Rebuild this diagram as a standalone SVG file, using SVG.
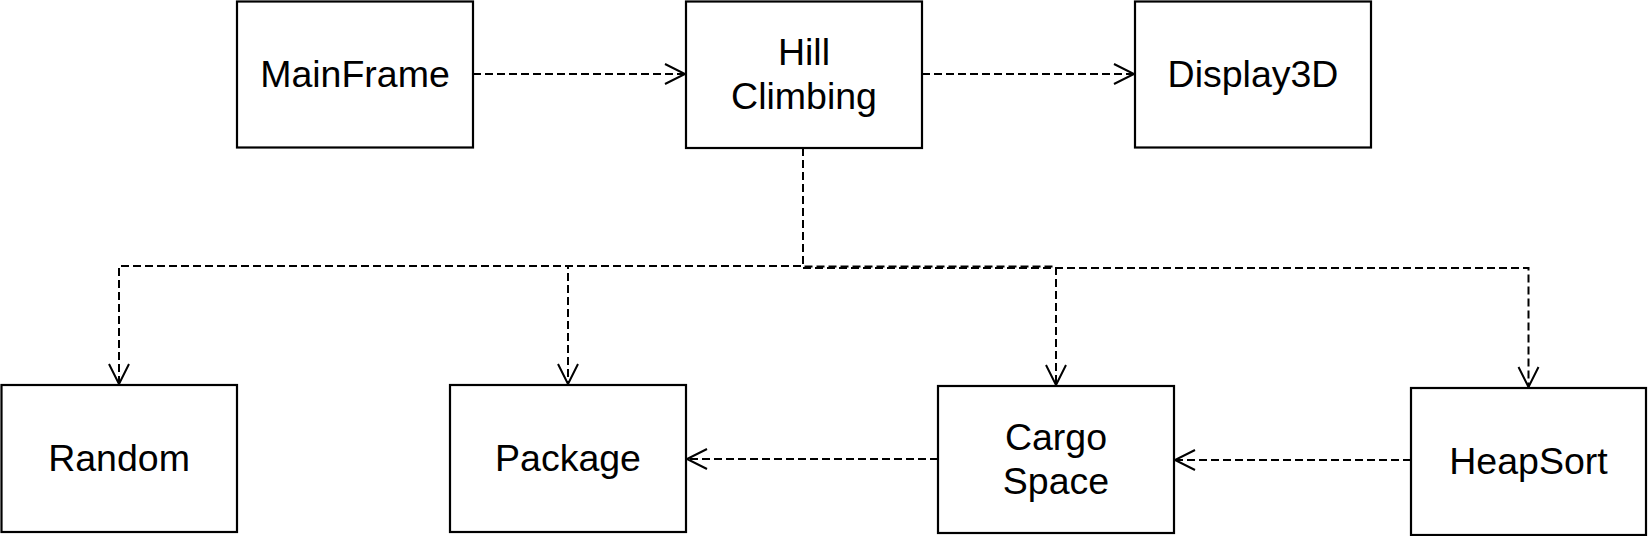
<svg xmlns="http://www.w3.org/2000/svg" width="1648" height="536" viewBox="0 0 1648 536">
<style>
.box{fill:#fff;stroke:#000;stroke-width:2.2}
.lbl{font-family:"Liberation Sans",Arial,sans-serif;font-size:37.5px;fill:#000;text-anchor:middle}
.edge{fill:none;stroke:#000;stroke-width:2;stroke-dasharray:8 4}
</style>
<defs>
<marker id="open" markerUnits="userSpaceOnUse" markerWidth="24" markerHeight="24" viewBox="-22 -12 24 24" refX="0" refY="0" orient="auto" overflow="visible">
<path d="M-20,-10 L0,0 L-20,10" fill="none" stroke="#000" stroke-width="2"/>
</marker>
</defs>
<rect width="1648" height="536" fill="#fff"/>
<g id="connectors">
<path class="edge" d="M473,74 H685" marker-end="url(#open)"/>
<path class="edge" d="M922,74 H1134" marker-end="url(#open)"/>
<path class="edge" d="M803,148 V266 H119 V384" marker-end="url(#open)"/>
<path class="edge" d="M803,148 V266 H568 V384" marker-end="url(#open)"/>
<path class="edge" d="M803,148 V266.5 H1056 V385" marker-end="url(#open)"/>
<path class="edge" d="M803,148 V268 H1528.5 V387" marker-end="url(#open)"/>
<path class="edge" d="M938,459 H687" marker-end="url(#open)"/>
<path class="edge" d="M1411,460 H1175" marker-end="url(#open)"/>
</g>
<g id="MainFrame">
<rect class="box" x="237" y="1.5" width="236" height="146"/>
<text class="lbl" x="355" y="87">MainFrame</text>
</g>
<g id="HillClimbing">
<rect class="box" x="686" y="1.5" width="236" height="146.5"/>
<text class="lbl" x="804" y="65">Hill</text>
<text class="lbl" x="804" y="109">Climbing</text>
</g>
<g id="Display3D">
<rect class="box" x="1135" y="1.5" width="236" height="146"/>
<text class="lbl" x="1253" y="87">Display3D</text>
</g>
<g id="Random">
<rect class="box" x="1.5" y="385" width="235.5" height="147"/>
<text class="lbl" x="119" y="471">Random</text>
</g>
<g id="Package">
<rect class="box" x="450" y="385" width="236" height="147"/>
<text class="lbl" x="568" y="471">Package</text>
</g>
<g id="CargoSpace">
<rect class="box" x="938" y="386" width="236" height="147"/>
<text class="lbl" x="1056" y="450">Cargo</text>
<text class="lbl" x="1056" y="494">Space</text>
</g>
<g id="HeapSort">
<rect class="box" x="1411" y="388" width="235" height="147"/>
<text class="lbl" x="1528.5" y="474">HeapSort</text>
</g>
</svg>
